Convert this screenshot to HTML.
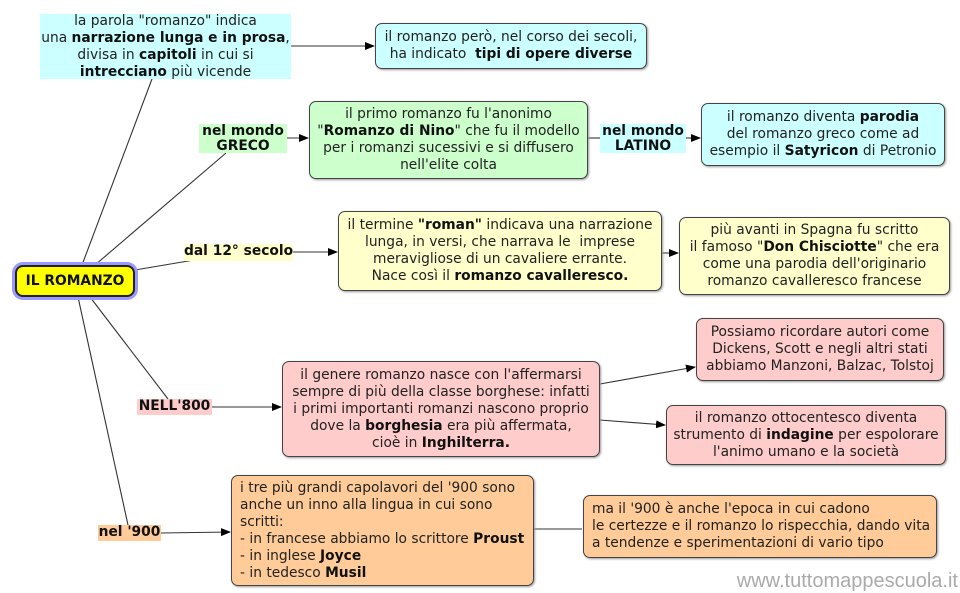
<!DOCTYPE html>
<html><head><meta charset="utf-8"><style>
body{margin:0;width:960px;height:593px;background:#fff;position:relative;overflow:hidden;font-family:"DejaVu Sans","Liberation Sans",sans-serif;font-size:13.8px;color:#222}
.b{position:absolute;box-sizing:border-box;display:flex;align-items:center;justify-content:center;text-align:center;line-height:17px;border:1px solid #444;border-radius:7px;box-shadow:1px 1px 2px #999;white-space:nowrap}
.b>div{width:100%}
.l{position:absolute;box-sizing:border-box;text-align:center;line-height:15px;font-weight:bold;color:#111;font-size:13.8px;white-space:nowrap}
b{color:#111}
svg{position:absolute;left:0;top:0}
</style></head><body>
<svg width="960" height="593">
<defs><marker id="a" markerWidth="10" markerHeight="8" refX="9" refY="4" orient="auto" markerUnits="userSpaceOnUse"><path d="M0,0L10,4L0,8z" fill="#000"/></marker></defs>
<g stroke="#333" stroke-width="1.1" fill="none">
<line x1="82" y1="265" x2="152" y2="79"/>
<line x1="95" y1="265" x2="226" y2="153"/>
<line x1="135" y1="270" x2="200" y2="259"/>
<line x1="90" y1="297" x2="168" y2="399"/>
<line x1="78" y1="297" x2="128" y2="525"/>
<line x1="291" y1="46" x2="374" y2="46" marker-end="url(#a)"/>
<line x1="287" y1="138" x2="308" y2="138" marker-end="url(#a)"/>
<line x1="588" y1="138" x2="600" y2="138"/>
<line x1="686" y1="138" x2="700" y2="138" marker-end="url(#a)"/>
<line x1="293" y1="252" x2="337" y2="252" marker-end="url(#a)"/>
<line x1="662" y1="253" x2="678" y2="253" marker-end="url(#a)"/>
<line x1="212" y1="407" x2="281" y2="407" marker-end="url(#a)"/>
<line x1="600" y1="384" x2="695" y2="367" marker-end="url(#a)"/>
<line x1="600" y1="420" x2="665" y2="425" marker-end="url(#a)"/>
<line x1="161" y1="533" x2="230" y2="532" marker-end="url(#a)"/>
<line x1="534" y1="529" x2="582" y2="529"/>
</g></svg>

<div class="b" style="left:40px;top:14px;width:251px;height:65px;background:#ccffff;border:none;border-radius:0;box-shadow:none"><div>la parola "romanzo" indica<br>una <b>narrazione lunga e in prosa</b>,<br>divisa in <b>capitoli</b> in cui si<br><b>intrecciano</b> più vicende</div></div>
<div class="b" style="left:375px;top:23px;width:272px;height:46px;background:#ccffff"><div>il romanzo però, nel corso dei secoli,<br>ha indicato&nbsp; <b>tipi di opere diverse</b></div></div>

<div class="l" style="left:199px;top:124px;width:88px;height:29px;background:#ccffcc">nel mondo<br>GRECO</div>
<div class="b" style="left:309px;top:101px;width:279px;height:78px;background:#ccffcc"><div>il primo romanzo fu l'anonimo<br>"<b>Romanzo di Nino</b>" che fu il modello<br>per i romanzi sucessivi e si diffusero<br>nell'elite colta</div></div>
<div class="l" style="left:600px;top:124px;width:86px;height:29px;background:#ccffff">nel mondo<br>LATINO</div>
<div class="b" style="left:701px;top:103px;width:244px;height:63px;background:#ccffff"><div>il romanzo diventa <b>parodia</b><br>del romanzo greco come ad<br>esempio il <b>Satyricon</b> di Petronio</div></div>

<div class="b" style="left:15px;top:265px;width:120px;height:32px;background:#ffff00;border:2px solid #222;border-radius:8px;box-shadow:0 0 0 3px #9999ff;font-weight:bold;color:#111"><div>IL ROMANZO</div></div>

<div class="l" style="left:184px;top:244px;width:109px;height:17px;background:#ffffcc">dal 12° secolo</div>
<div class="b" style="left:338px;top:211px;width:324px;height:80px;background:#ffffcc"><div>il termine <b>"roman"</b> indicava una narrazione<br>lunga, in versi, che narrava le&nbsp; imprese<br>meravigliose di un cavaliere errante.<br>Nace così il <b>romanzo cavalleresco.</b></div></div>
<div class="b" style="left:679px;top:217px;width:271px;height:78px;background:#ffffcc"><div>più avanti in Spagna fu scritto<br>il famoso "<b>Don Chisciotte</b>" che era<br>come una parodia dell'originario<br>romanzo cavalleresco francese</div></div>

<div class="l" style="left:137px;top:399px;width:75px;height:16px;background:#ffcccc">NELL'800</div>
<div class="b" style="left:282px;top:361px;width:318px;height:96px;background:#ffcccc"><div>il genere romanzo nasce con l'affermarsi<br>sempre di più della classe borghese: infatti<br>i primi importanti romanzi nascono proprio<br>dove la <b>borghesia</b> era più affermata,<br>cioè in <b>Inghilterra.</b></div></div>
<div class="b" style="left:696px;top:318px;width:248px;height:63px;background:#ffcccc"><div>Possiamo ricordare autori come<br>Dickens, Scott e negli altri stati<br>abbiamo Manzoni, Balzac, Tolstoj</div></div>
<div class="b" style="left:666px;top:405px;width:280px;height:60px;background:#ffcccc"><div>il romanzo ottocentesco diventa<br>strumento di <b>indagine</b> per espolorare<br>l'animo umano e la società</div></div>

<div class="l" style="left:98px;top:525px;width:63px;height:16px;background:#ffcc99">nel '900</div>
<div class="b" style="left:231px;top:475px;width:303px;height:111px;background:#ffcc99;text-align:left;padding-left:8px"><div>i tre più grandi capolavori del '900 sono<br>anche un inno alla lingua in cui sono<br>scritti:<br>- in francese abbiamo lo scrittore <b>Proust</b><br>- in inglese <b>Joyce</b><br>- in tedesco <b>Musil</b></div></div>
<div class="b" style="left:583px;top:495px;width:354px;height:63px;background:#ffcc99;text-align:left;padding-left:8px"><div>ma il '900 è anche l'epoca in cui cadono<br>le certezze e il romanzo lo rispecchia, dando vita<br>a tendenze e sperimentazioni di vario tipo</div></div>

<div style="position:absolute;right:2px;top:570px;font-size:20px;color:#aaa;font-family:'Liberation Sans',sans-serif">www.tuttomappescuola.it</div>
</body></html>
